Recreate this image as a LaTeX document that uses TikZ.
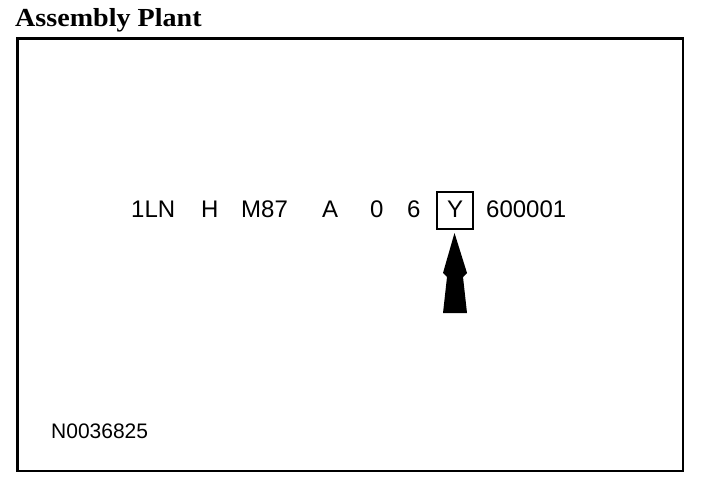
\documentclass[tikz,border=0pt]{standalone}
\usepackage{fontspec}
\setmainfont{Liberation Serif}
\setsansfont{Liberation Sans}
\begin{document}
\begin{tikzpicture}[x=1pt,y=-1pt,
  code/.style={font=\sffamily\fontsize{24}{28}\selectfont, anchor=base west, inner sep=0pt},
  frameline/.style={draw=black, line width=2.6pt},
  boxline/.style={draw=black, line width=2pt}]
\useasboundingbox (0,0) rectangle (704,492);
\fill[white] (0,0) rectangle (704,492);
\node[anchor=base west, inner sep=0pt, font=\bfseries\fontsize{26}{30}\selectfont, xscale=1.08] (title) at (15,27) {Assembly Plant};
\draw[frameline] (17.5,38.5) rectangle (683,471);
\node[code] (t1) at (131,217) {1LN};
\node[code] (t2) at (201,217) {H};
\node[code] (t3) at (241,217) {M87};
\node[code] (t4) at (322,217) {A};
\node[code] (t5) at (370,217) {0};
\node[code] (t6) at (407,217) {6};
\node[code, anchor=base] (ty) at (455,217) {Y};
\node[code] (t8) at (486,217) {600001};
\draw[boxline] (437,192) rectangle (473,229);
\fill[black] (454.5,233) -- (443,273) -- (447,277) -- (443,313) -- (467,313) -- (463,277) -- (467,273) -- cycle;
\node[anchor=base west, inner sep=0pt, font=\sffamily\fontsize{21}{24}\selectfont] (id) at (51,438) {N0036825};
\end{tikzpicture}
\end{document}
